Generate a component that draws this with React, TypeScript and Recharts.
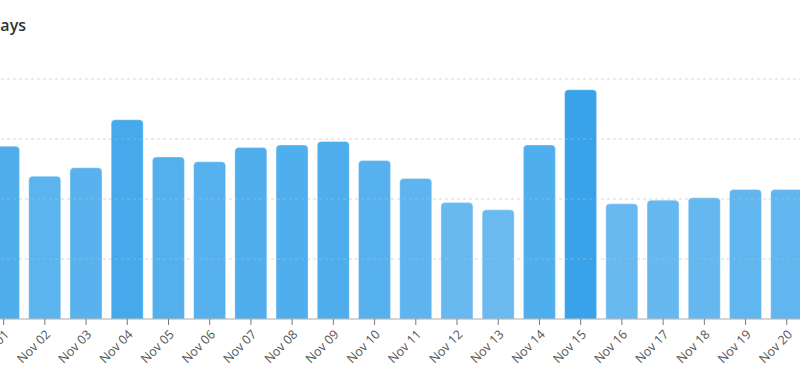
import React from 'react';
import { BarChart, Bar, XAxis, YAxis, ReferenceLine, Cell } from 'recharts';

// Daily values for the first twenty days of November
const days = [
  'Nov 01', 'Nov 02', 'Nov 03', 'Nov 04', 'Nov 05', 'Nov 06', 'Nov 07', 'Nov 08', 'Nov 09', 'Nov 10',
  'Nov 11', 'Nov 12', 'Nov 13', 'Nov 14', 'Nov 15', 'Nov 16', 'Nov 17', 'Nov 18', 'Nov 19', 'Nov 20',
];
const totals = [144, 119, 126, 166, 135, 131, 143, 145, 148, 132, 117, 97, 91, 145, 191, 96, 99, 101, 108, 108];
const yTicks = [0, 50, 100, 150, 200];

const data = days.map((day, i) => ({ day, total: totals[i] }));

// lighter blue for low days, deeper blue for busy days
const light = [106, 186, 240];
const dark = [56, 163, 234];
const minV = Math.min(...totals);
const maxV = Math.max(...totals);
const shade = (v: number) => {
  const t = (v - minV) / (maxV - minV);
  const c = light.map((l, k) => Math.round(l + (dark[k] - l) * t));
  return `rgb(${c[0]},${c[1]},${c[2]})`;
};

const App: React.FC = () => {
  return (
    <div style={{ position: 'fixed', left: 0, top: 0, width: 800, height: 382, overflow: 'hidden', background: '#fff' }}>
      <div
        style={{
          position: 'absolute',
          right: 774,
          top: 15,
          whiteSpace: 'nowrap',
          fontFamily: '"Open Sans", sans-serif',
          fontSize: 16,
          fontWeight: 600,
          lineHeight: '20px',
          color: '#333',
        }}
      >
        Sales by Days
      </div>
      <div style={{ position: 'absolute', left: -76.8, top: 0 }}>
        <BarChart
          width={904.4}
          height={382}
          data={data}
          margin={{ top: 79, right: 20, left: 10, bottom: 3 }}
          barCategoryGap="11%"
        >
          <XAxis
            dataKey="day"
            height={60}
            interval={0}
            stroke="#aaa"
            tickLine={{ stroke: '#777' }}
            tickMargin={4}
            tick={{ fill: '#555', fontSize: 12.5, fontFamily: '"Open Sans", sans-serif' }}
            angle={-45}
            textAnchor="end"
          />
          <YAxis
            width={50}
            domain={[0, 200]}
            ticks={yTicks}
            axisLine={false}
            tickLine={false}
            tick={{ fill: '#555', fontSize: 12 }}
          />
          <Bar
            dataKey="total"
            radius={[4, 4, 0, 0]}
            stroke="rgba(255,255,255,0.35)"
            isAnimationActive={false}
          >
            {data.map((d) => (
              <Cell key={d.day} fill={shade(d.total)} />
            ))}
          </Bar>
          {yTicks.slice(1).map((t) => (
            <ReferenceLine key={t} y={t} stroke="#bbb" strokeOpacity={0.6} strokeDasharray="3 3" />
          ))}
        </BarChart>
      </div>
    </div>
  );
};

export default App;
